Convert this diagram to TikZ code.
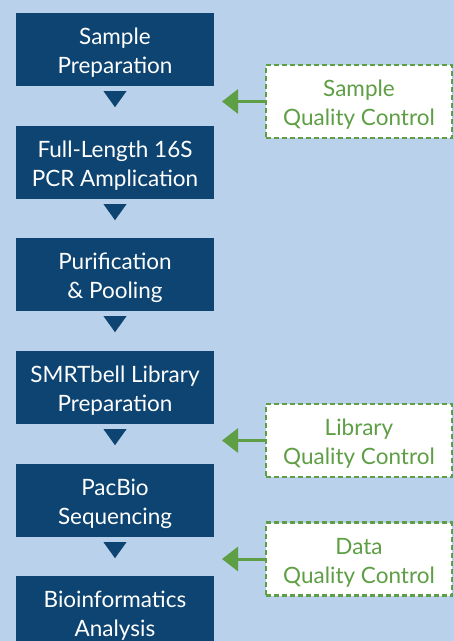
\documentclass[tikz,border=0pt]{standalone}
\usepackage{fontspec}
\setmainfont{Lato}
\usetikzlibrary{arrows.meta,calc}
\definecolor{bgblue}{HTML}{B9D1EA}
\definecolor{darkblue}{HTML}{0E4471}
\definecolor{qcgreen}{HTML}{5E9F45}
\newcommand{\twolines}[2]{\raisebox{-4pt}[\height][\depth]{\begin{tabular}{@{}c@{}}#1\\#2\end{tabular}}}
\tikzset{
  stepbox/.style={fill=darkblue, text=white, minimum width=198pt, minimum height=73pt,
    inner sep=0pt, font=\fontsize{22.5}{29}\selectfont},
  qcbox/.style={fill=white, draw=qcgreen, line width=2.2pt, dash pattern=on 5pt off 3pt,
    text=qcgreen, minimum width=186pt, minimum height=73pt, inner sep=0pt,
    font=\fontsize{22.5}{29}\selectfont},
  qcarrow/.style={draw=qcgreen, line width=3pt, -{Triangle[length=16pt,width=24pt]}},
}
\begin{document}
\begin{tikzpicture}[x=1pt,y=-1pt]
\useasboundingbox[fill=bgblue] (0,0) rectangle (454,641);
\node[stepbox] (b1) at (115,49.5) {\twolines{Sample}{Preparation}};
\node[stepbox] (b2) at (115,162.5) {\twolines{Full-Length 16S}{PCR Amplication}};
\node[stepbox] (b3) at (115,274.5) {\twolines{Purification}{\& Pooling}};
\node[stepbox] (b4) at (115,387.5) {\twolines{SMRTbell Library}{Preparation}};
\node[stepbox] (b5) at (115,500.5) {\twolines{PacBio}{Sequencing}};
\node[stepbox] (b6) at (115,612.5) {\twolines{Bioinformatics}{Analysis}};
\foreach \b in {b1,b2,b3,b4,b5}{
  \fill[darkblue] ($(\b.south)+(-11.5,5)$) -- ++(23,0) -- ++(-11.5,16) -- cycle;
}
\node[qcbox] (q1) at (359,101.5) {\twolines{Sample}{Quality Control}};
\node[qcbox] (q2) at (359,440.5) {\twolines{Library}{Quality Control}};
\node[qcbox] (q3) at (359,559) {\twolines{Data}{Quality Control}};
\coordinate (tip) at (222,0);
\foreach \q in {q1,q2,q3}{
  \draw[qcarrow, solid] (\q.west) -- (\q.west -| tip);
}
\end{tikzpicture}
\end{document}
